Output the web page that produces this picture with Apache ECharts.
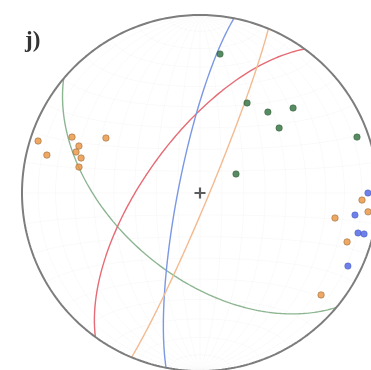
<!DOCTYPE html>
<html><head><meta charset="utf-8">
<script src="https://cdn.jsdelivr.net/npm/echarts@6/dist/echarts.min.js"></script>
<style>html,body{margin:0;padding:0;background:#fff}#c{width:371px;height:370px}</style>
</head><body><div id="c"></div>
<script>
// ---- data (orientations) ----
const panelLabel = 'j)';
// great circles (right-hand-rule strike, dip)
const planeStrikes = [130, 216, 191, 22.6];
const planeDips    = [52, 65, 80, 86];
const planeColors  = ['#8db592', '#e66b75', '#7b98e4', '#f4ba90'];
// green poles (trend, plunge)
const greenTrends  = [8.2, 27.6, 40.0, 47.6, 50.6, 70.4, 62.2];
const greenPlunges = [22.2, 42.4, 40.4, 29.9, 42.0, 7.1, 71.4];
// orange poles
const orangeTrends  = [287.8, 283.9, 293.6, 291.2, 288.3, 286.4, 282.1, 300.3, 100.5, 92.5, 96.4, 108.4, 130.1];
const orangePlunges = [5.0, 12.4, 22.6, 27.9, 27.5, 31.0, 31.1, 38.7, 23.9, 9.8, 5.6, 14.0, 12.1];
// blue poles
const blueTrends  = [90, 98.1, 104.2, 104.0, 116.3];
const bluePlunges = [6.3, 13.1, 9.3, 5.6, 8.1];
const gridStep = 10;

// ---- equal-area (Schmidt) lower-hemisphere projection ----
const D2R = Math.PI / 180;
function projVec(v) {
  const len = Math.hypot(v[0], v[1], v[2]);
  let e = v[0] / len, n = v[1] / len, d = v[2] / len;
  if (d < 0) { e = -e; n = -n; d = -d; }
  const plunge = Math.asin(Math.min(1, d)) / D2R;
  const trend = Math.atan2(e, n);
  const r = Math.SQRT2 * Math.sin((90 - plunge) * D2R / 2);
  return [r * Math.sin(trend), r * Math.cos(trend)];
}
function projTP(t, p) {
  return projVec([Math.cos(p * D2R) * Math.sin(t * D2R), Math.cos(p * D2R) * Math.cos(t * D2R), Math.sin(p * D2R)]);
}
function greatCircle(strike, dip) {
  const s = strike * D2R, d = dip * D2R, dd = s + Math.PI / 2;
  const S = [Math.sin(s), Math.cos(s), 0];
  const D = [Math.sin(dd) * Math.cos(d), Math.cos(dd) * Math.cos(d), Math.sin(d)];
  const pts = [];
  for (let a = 0; a <= 180; a += 1) {
    const c = Math.cos(a * D2R), sn = Math.sin(a * D2R);
    pts.push(projVec([c * S[0] + sn * D[0], c * S[1] + sn * D[1], c * S[2] + sn * D[2] + 1e-12]));
  }
  return pts;
}
function smallCircleNS(c, sign) {
  const pts = [];
  for (let f = 0; f <= 180; f += 2) {
    pts.push(projVec([Math.sin(c * D2R) * Math.cos(f * D2R), sign * Math.cos(c * D2R), Math.sin(c * D2R) * Math.sin(f * D2R) + 1e-12]));
  }
  return pts;
}

// net grid
const netLines = [];
for (let dp = gridStep; dp < 90; dp += gridStep) {
  netLines.push({ coords: greatCircle(0, dp) });
  netLines.push({ coords: greatCircle(180, dp) });
  netLines.push({ coords: smallCircleNS(dp, 1) });
  netLines.push({ coords: smallCircleNS(dp, -1) });
}
netLines.push({ coords: greatCircle(0, 90) });
netLines.push({ coords: greatCircle(90, 90) });

const primitive = [];
for (let a = 0; a <= 360; a += 1) primitive.push([Math.sin(a * D2R), Math.cos(a * D2R)]);

const ticks = [
  { coords: [[0, 1], [0, 1.03]] },
  { coords: [[-1, 0], [-1.03, 0]] },
  { coords: [[1, 0], [1.03, 0]] },
  { coords: [[0, -1], [0, -1.03]] }
];

const series = [];
series.push({ type: 'lines', coordinateSystem: 'cartesian2d', polyline: true, silent: true,
  lineStyle: { color: 'rgba(0,0,0,0.07)', width: 0.7 }, data: netLines, z: 1 });
planeStrikes.forEach((s, i) => {
  series.push({ type: 'line', data: greatCircle(s, planeDips[i]), showSymbol: false, smooth: false,
    lineStyle: { color: planeColors[i], width: 1.4 }, z: 3, clip: false });
});
series.push({ type: 'line', data: primitive, showSymbol: false, lineStyle: { color: '#7d7d7d', width: 2 }, z: 5, clip: false });
series.push({ type: 'lines', coordinateSystem: 'cartesian2d', silent: true,
  lineStyle: { color: '#7d7d7d', width: 1.2 }, data: ticks, z: 5 });
function poles(ts, ps) { return ts.map((t, i) => projTP(t, ps[i])); }
series.push({ type: 'scatter', data: poles(greenTrends, greenPlunges), symbolSize: 6.5,
  itemStyle: { color: '#2f6e3c', borderColor: '#1f4a28', borderWidth: 0.5 }, z: 6 });
series.push({ type: 'scatter', data: poles(orangeTrends, orangePlunges), symbolSize: 6.5,
  itemStyle: { color: '#e8923e', borderColor: '#8a5a2c', borderWidth: 0.6 }, z: 6 });
series.push({ type: 'scatter', data: poles(blueTrends, bluePlunges), symbolSize: 6.5,
  itemStyle: { color: '#4a60e4', borderColor: '#3040a0', borderWidth: 0.4 }, z: 6 });
series.push({ type: 'scatter', data: [[0, 0]], symbol: 'path://M4,0H6V4H10V6H6V10H4V6H0V4H4Z', symbolSize: 11,
  itemStyle: { color: '#333' }, z: 7 });

// net centre at (200,193) px, radius 178 px; grid kept inside the 371x370 page
const R = 178, CX = 200, CY = 193, GL = 22, GT = 15, GW = 349, GH = 355;
const chart = echarts.init(document.getElementById('c'), null, { renderer: 'canvas' });
chart.setOption({
  animation: false,
  backgroundColor: '#fff',
  title: { text: panelLabel, left: 20, top: 25,
    textStyle: { fontFamily: 'Liberation Serif', fontSize: 23, fontWeight: 'bold', color: '#333' } },
  grid: { left: GL, top: GT, width: GW, height: GH, outerBoundsMode: 'none' },
  xAxis: { type: 'value', min: (GL - CX) / R, max: (GL + GW - CX) / R, show: false },
  yAxis: { type: 'value', min: (CY - GT - GH) / R, max: (CY - GT) / R, show: false },
  series: series
});
</script></body></html>
